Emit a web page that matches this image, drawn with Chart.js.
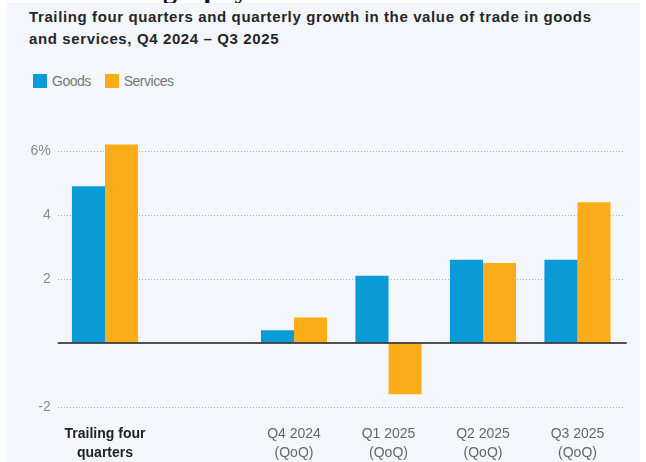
<!DOCTYPE html>
<html>
<head>
<meta charset="utf-8">
<script src="https://cdn.jsdelivr.net/npm/chart.js@4.4.1/dist/chart.umd.min.js"></script>
<style>
  html, body { margin: 0; padding: 0; background: #ffffff; }
  body { width: 646px; height: 462px; position: relative; overflow: hidden; }
  #panel { position: absolute; left: 7px; top: 3px; width: 633px; height: 459px; background: #f3f7fb; }
  #masthead { position: absolute; left: 150px; top: 0; width: 120px; height: 3px; overflow: hidden; }
  #masthead span { position: absolute; left: 13px; top: -27px; font: bold 28px "Liberation Serif", "DejaVu Serif", serif; color: #111; white-space: nowrap; }
  #title { position: absolute; left: 29px; top: 6px; width: 610px; font: bold 15px "Liberation Sans", Arial, sans-serif; line-height: 22px; color: #262626; letter-spacing: 0.62px; white-space: nowrap; }
  #legend { position: absolute; left: 33px; top: 73px; font: 14px "Liberation Sans", Arial, sans-serif; letter-spacing: -0.5px; color: #777; display: flex; align-items: center; }
  #legend .sw { display: inline-block; width: 14px; height: 14px; margin-right: 5px; }
  #legend .item { display: flex; align-items: center; margin-right: 14px; }
  #wrap { position: absolute; left: 0; top: 0; width: 646px; height: 462px; }
</style>
</head>
<body>
<div id="panel"></div>
<div id="masthead"><span>graphy</span></div>
<div id="title">Trailing four quarters and quarterly growth in the value of trade in goods<br>and services, Q4 2024 – Q3 2025</div>
<div id="legend"></div>
<div id="wrap"><canvas id="chart" width="646" height="462"></canvas></div>
<script>
// Categories: the trailing-four-quarters group, a spacer slot, then four quarters
const categories = [
  ['Trailing four', 'quarters'],
  '',
  ['Q4 2024', '(QoQ)'],
  ['Q1 2025', '(QoQ)'],
  ['Q2 2025', '(QoQ)'],
  ['Q3 2025', '(QoQ)']
];
// Growth in the value of trade, percent
const goods    = [4.9, null, 0.4, 2.1, 2.6, 2.6];
const services = [6.2, null, 0.8, -1.6, 2.5, 4.4];
const yTicks = [-2, 0, 2, 4, 6];

const seriesNames = ['Goods', 'Services'];
const seriesColors = ['#0a9bd7', '#fbad19'];

// Legend
const legend = document.getElementById('legend');
seriesNames.forEach((name, i) => {
  const item = document.createElement('span');
  item.className = 'item';
  item.innerHTML = '<span class="sw" style="background:' + seriesColors[i] + '"></span>' + name;
  legend.appendChild(item);
});

const sans = '"Liberation Sans", Arial, sans-serif';

new Chart(document.getElementById('chart'), {
  type: 'bar',
  data: {
    labels: categories,
    datasets: [
      { label: seriesNames[0], data: goods, backgroundColor: seriesColors[0] },
      { label: seriesNames[1], data: services, backgroundColor: seriesColors[1] }
    ]
  },
  options: {
    responsive: false,
    animation: false,
    categoryPercentage: 0.7,
    barPercentage: 1.0,
    layout: { padding: { left: 7, right: 21.25, top: 119, bottom: 0 } },
    plugins: { legend: { display: false }, tooltip: { enabled: false }, title: { display: false } },
    scales: {
      x: {
        grid: { display: false, drawTicks: false },
        border: { display: false },
        ticks: {
          padding: 18,
          maxRotation: 0,
          autoSkip: false,
          color: ctx => ctx.index === 0 ? '#222' : '#666',
          font: ctx => ({ family: sans, size: 14, weight: ctx.index === 0 ? 'bold' : 'normal', lineHeight: 1.35 })
        },
        afterFit: s => { s.height = 55; }
      },
      y: {
        min: -2,
        max: 7,
        afterBuildTicks: s => { s.ticks = yTicks.map(v => ({ value: v })); },
        afterFit: s => { s.width = 50.75; },
        border: {
          display: false,
          dash: ctx => ctx.tick && ctx.tick.value === 0 ? [] : [1, 2]
        },
        grid: {
          drawTicks: false,
          color: ctx => ctx.tick && ctx.tick.value === 0 ? 'rgba(0,0,0,0)' : '#a9aeb3',
          lineWidth: 1
        },
        ticks: {
          padding: 7,
          color: '#8a8a8a',
          font: { family: sans, size: 14 },
          callback: v => v === 0 ? '' : (v === 6 ? '6%' : String(v))
        }
      }
    }
  },
  plugins: [{
    // solid zero baseline drawn over the bars
    id: 'zeroLine',
    afterDatasetsDraw(chart) {
      const { ctx, chartArea, scales } = chart;
      const y = scales.y.getPixelForValue(0);
      ctx.save();
      ctx.strokeStyle = '#1a1a1a';
      ctx.lineWidth = 1.5;
      ctx.beginPath();
      ctx.moveTo(chartArea.left, y);
      ctx.lineTo(chartArea.right + 2, y);
      ctx.stroke();
      ctx.restore();
    }
  }]
});
</script>
</body>
</html>
